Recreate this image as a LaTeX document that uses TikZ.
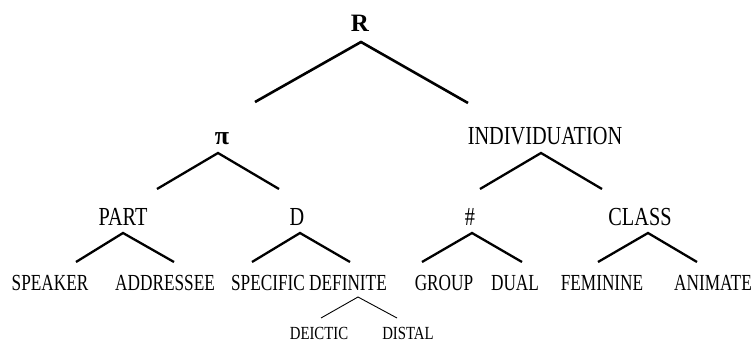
\documentclass[tikz,border=0pt]{standalone}
\usepackage{fontspec}
\setmainfont{Liberation Serif}
\usepackage{graphicx}
\newcommand{\narA}[1]{\scalebox{0.78}[1]{#1}}
\newcommand{\narB}[1]{\scalebox{0.75}[1]{#1}}
\newcommand{\narC}[1]{\scalebox{0.8}[1]{#1}}
\tikzset{
  lbl/.style={anchor=base, inner sep=0pt, outer sep=0pt},
  toplbl/.style={lbl, font=\fontsize{25}{25}\selectfont\bfseries},
  midlbl/.style={lbl, font=\fontsize{26}{26}\selectfont},
  botlbl/.style={lbl, font=\fontsize{23}{23}\selectfont},
  smalllbl/.style={lbl, font=\fontsize{18.5}{18.5}\selectfont},
  branch/.style={line width=2.6pt, line join=miter},
  midbranch/.style={line width=2.3pt},
  thinbranch/.style={line width=0.9pt}
}
\begin{document}
\begin{tikzpicture}[x=1pt,y=-1pt]
\useasboundingbox (0,0) rectangle (755,342);
% labels
\node[toplbl] (R) at (360,32) {R};
\node[lbl, font=\fontsize{26}{26}\selectfont\bfseries] (pi) at (222,145) {π};
\node[midlbl] (ind) at (545,145) {\narA{INDIVIDUATION}};
\node[midlbl] (part) at (123,225) {\narA{PART}};
\node[midlbl] (d) at (297,225) {\narA{D}};
\node[midlbl] (num) at (470,225) {\narA{\#}};
\node[midlbl] (class) at (640,225) {\narA{CLASS}};
\node[botlbl] (spk) at (50,290) {\narB{SPEAKER}};
\node[botlbl] (addr) at (165,290) {\narB{ADDRESSEE}};
\node[botlbl] (spec) at (268,290) {\narB{SPECIFIC}};
\node[botlbl] (def) at (348,290) {\narB{DEFINITE}};
\node[botlbl] (grp) at (444,290) {\narB{GROUP}};
\node[botlbl] (dual) at (515,290) {\narB{DUAL}};
\node[botlbl] (fem) at (602,290) {\narB{FEMININE}};
\node[botlbl] (anim) at (713,290) {\narB{ANIMATE}};
\node[smalllbl] (deic) at (319,339) {\narC{DEICTIC}};
\node[smalllbl] (dist) at (408,339) {\narC{DISTAL}};
% apex and end coordinates
\coordinate (Ra) at (361,42);
\coordinate (Rl) at (255,102);
\coordinate (Rr) at (468,103);
\coordinate (pia) at (218,153);
\coordinate (pil) at (157,189);
\coordinate (pir) at (279,189);
\coordinate (inda) at (541,153);
\coordinate (indl) at (480,189);
\coordinate (indr) at (602,189);
\coordinate (parta) at (123,233);
\coordinate (partl) at (76,262);
\coordinate (partr) at (174,262);
\coordinate (da) at (300,233);
\coordinate (dl) at (252,262);
\coordinate (dr) at (350,262);
\coordinate (numa) at (472,233);
\coordinate (numl) at (422,262);
\coordinate (numr) at (522,262);
\coordinate (classa) at (648,233);
\coordinate (classl) at (598,262);
\coordinate (classr) at (697,262);
\coordinate (defa) at (358,297);
\coordinate (defl) at (321,318);
\coordinate (defr) at (397,318);
% branches
\draw[branch] (Rl) -- (Ra) -- (Rr);
\draw[midbranch] (pil) -- (pia) -- (pir);
\draw[midbranch] (indl) -- (inda) -- (indr);
\draw[midbranch] (partl) -- (parta) -- (partr);
\draw[midbranch] (dl) -- (da) -- (dr);
\draw[midbranch] (numl) -- (numa) -- (numr);
\draw[midbranch] (classl) -- (classa) -- (classr);
\draw[thinbranch] (defl) -- (defa) -- (defr);
\end{tikzpicture}
\end{document}
